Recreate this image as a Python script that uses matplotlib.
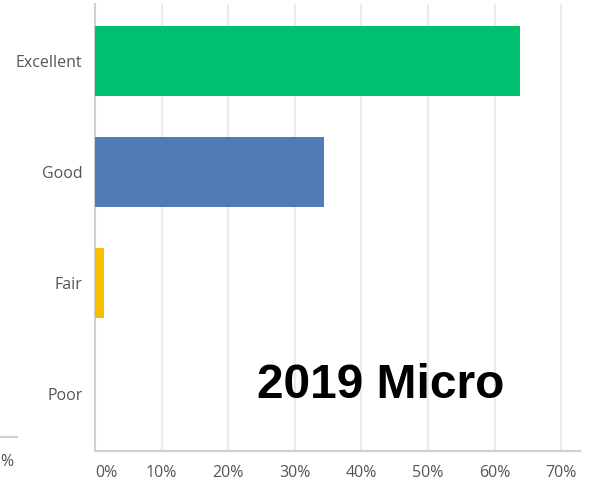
import matplotlib.pyplot as plt

categories = ['Excellent', 'Good', 'Fair', 'Poor']
percent = [63.8, 34.3, 1.4, 0.0]
bar_colors = ['#00BF6F', '#507CB6', '#F9BE00', '#D25F90']
tick_values = [0, 10, 20, 30, 40, 50, 60, 70]
tick_labels = ['0%', '10%', '20%', '30%', '40%', '50%', '60%', '70%']

fig = plt.figure(figsize=(5.95, 4.87), dpi=100)
ax = fig.add_axes([95 / 595, 1 - 451 / 487, 485 / 595, 447 / 487])

ypos = range(len(categories))
ax.barh(ypos, percent, height=0.63, color=bar_colors, zorder=3)

ax.set_xlim(0, 72.8)
ax.set_ylim(3.51, -0.51)
ax.set_yticks(list(ypos))
ax.set_yticklabels(categories)
ax.set_xticks(tick_values)
ax.set_xticklabels(tick_labels)
ax.xaxis.get_ticklabels()[0].set_horizontalalignment('left')

ax.grid(axis='x', color='#ebebeb', linewidth=1.5, zorder=0)
ax.tick_params(length=0, labelsize=11.5, labelcolor='#555555')
ax.tick_params(axis='y', pad=9)
ax.tick_params(axis='x', pad=10)
for lab in ax.get_xticklabels() + ax.get_yticklabels():
    lab.set_family('Open Sans')

for side in ['top', 'right']:
    ax.spines[side].set_visible(False)
for side in ['left', 'bottom']:
    ax.spines[side].set_color('#d0d0d0')
    ax.spines[side].set_linewidth(1.5)

ax.text(381 / 595, 1 - 386 / 487, '2019 Micro', transform=fig.transFigure, ha='center',
        va='center', fontsize=34.5, fontweight='bold', family='Liberation Sans')

# pieces of a neighbouring chart cut off at the left edge
fig.add_artist(plt.Line2D([0, 17 / 595], [1 - 437 / 487] * 2, color='#d0d0d0', linewidth=1.5))
fig.text(0.0, 1 - 462 / 487, '%', fontsize=11.5, color='#555555', va='center',
         ha='left', family='Open Sans')

fig.savefig('out.png', dpi=100)
